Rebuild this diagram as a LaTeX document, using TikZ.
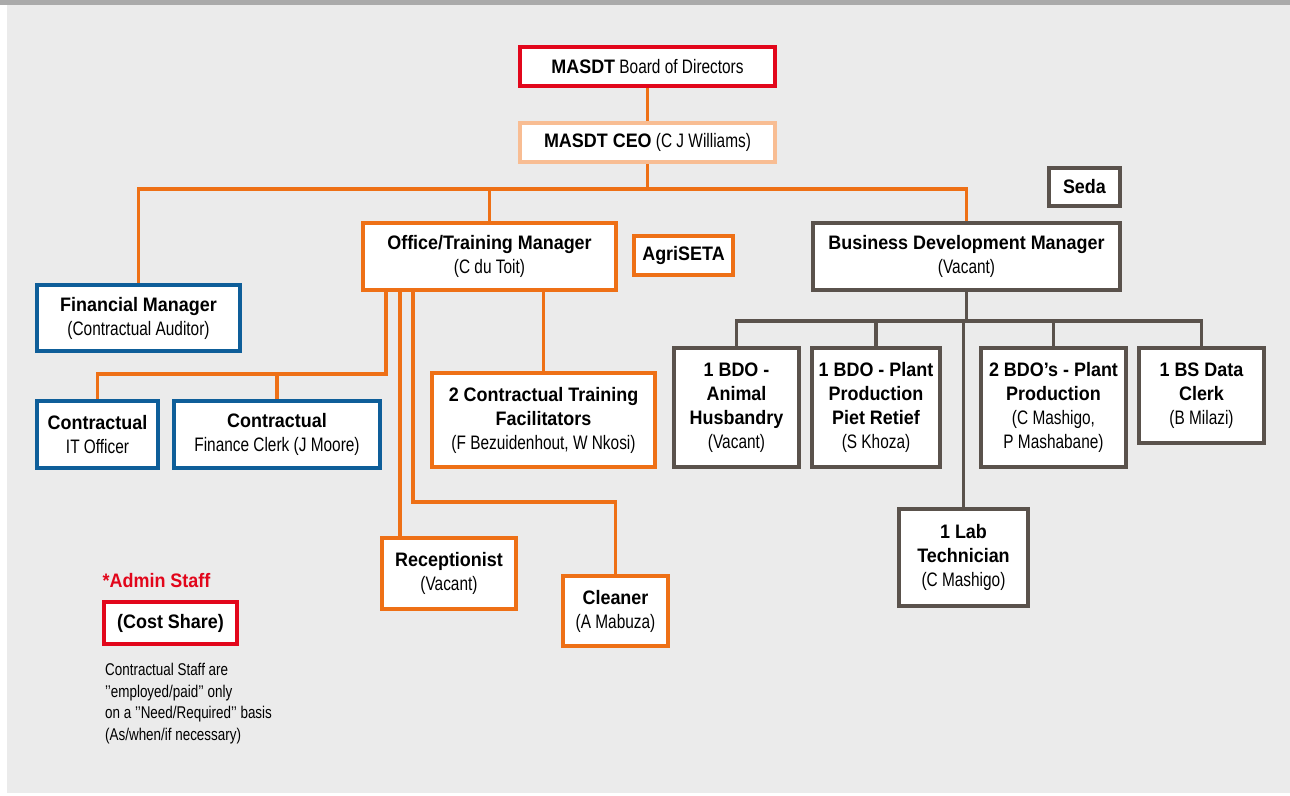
\documentclass[tikz,border=0pt]{standalone}
\usepackage{fontspec}
\setmainfont{Liberation Sans}[FakeStretch=0.79, BoldFeatures={FakeStretch=0.92}]
\definecolor{bgc}{HTML}{EBEBEB}
\definecolor{barc}{HTML}{AAAAAA}
\definecolor{orc}{HTML}{EE7016}
\definecolor{redc}{HTML}{E2061B}
\definecolor{peachc}{HTML}{F8BD93}
\definecolor{bluec}{HTML}{0E5E99}
\definecolor{greyc}{HTML}{5A524C}
\pgfdeclarelayer{bglayer}
\pgfdeclarelayer{linelayer}
\pgfsetlayers{bglayer,linelayer,main}
\tikzset{
  box/.style={draw, fill=white, line width=4bp, rectangle, inner sep=0pt, align=center,
    font=\fontsize{19.5bp}{24bp}\selectfont},
  obox/.style={box, draw=orc},
  bbox/.style={box, draw=bluec},
  gbox/.style={box, draw=greyc},
  rbox/.style={box, draw=redc},
  pbox/.style={box, draw=peachc},
  oline/.style={draw=orc, line width=3.5bp},
  gline/.style={draw=greyc, line width=3.5bp},
}
\begin{document}
\begin{tikzpicture}[x=1bp, y=-1bp]
\useasboundingbox (0,0) rectangle (1290,796);
\begin{pgfonlayer}{bglayer}
\fill[white] (0,0) rectangle (1290,796);
\fill[bgc] (7,5) rectangle (1290,793);
\fill[barc] (0,0) rectangle (1290,5);
\end{pgfonlayer}

\coordinate (ob) at (647.5,189);
\coordinate (ob1) at (386,290);
\coordinate (ob2) at (400,290);
\coordinate (ob3) at (413,290);
\coordinate (itb) at (97.5,374);
\coordinate (clb) at (615.5,502);
\coordinate (gb) at (966.5,321);

% top
\node[rbox, minimum width=255bp, minimum height=39bp] (board) at (647.5,66.5) {\textbf{MASDT} Board of Directors};
\node[pbox, minimum width=255bp, minimum height=39bp] (ceo) at (647.5,142.5) {\textbf{MASDT CEO} (C J Williams)};

% left branch
\node[obox, minimum width=253bp, minimum height=67bp] (office) at (489.5,256.5) {\textbf{Office/Training Manager}\\(C du Toit)};
\node[obox, minimum width=99bp, minimum height=39bp] (agri) at (683.5,255.5) {\textbf{AgriSETA}};
\node[bbox, minimum width=203bp, minimum height=66bp] (fin) at (138.5,318) {\textbf{Financial Manager}\\(Contractual Auditor)};
\node[bbox, minimum width=121bp, minimum height=67bp] (it) at (97.5,434.5) {\textbf{Contractual}\\IT Officer};
\node[bbox, minimum width=206bp, minimum height=67bp] (clerk) at (277,434.5) {\textbf{Contractual}\\Finance Clerk (J Moore)};
\node[obox, minimum width=223bp, minimum height=94bp] (facil) at (543.5,420) {\textbf{2 Contractual Training}\\\textbf{Facilitators}\\(F Bezuidenhout, W Nkosi)};
\node[obox, minimum width=134bp, minimum height=71bp] (recep) at (449,573.5) {\textbf{Receptionist}\\(Vacant)};
\node[obox, minimum width=105bp, minimum height=70bp] (cleaner) at (615.5,611) {\textbf{Cleaner}\\(A Mabuza)};

% right branch
\node[gbox, minimum width=71bp, minimum height=38bp] (seda) at (1084.5,187) {\textbf{Seda}};
\node[gbox, minimum width=307bp, minimum height=67bp] (bdm) at (966.5,256.5) {\textbf{Business Development Manager}\\(Vacant)};
\node[gbox, minimum width=125bp, minimum height=119bp] (bdo1) at (736.5,407.5) {\textbf{1 BDO -}\\\textbf{Animal}\\\textbf{Husbandry}\\(Vacant)};
\node[gbox, minimum width=128bp, minimum height=119bp] (bdo2) at (876,407.5) {\textbf{1 BDO - Plant}\\\textbf{Production}\\\textbf{Piet Retief}\\(S Khoza)};
\node[gbox, minimum width=145bp, minimum height=119bp] (bdo3) at (1053.5,407.5) {\textbf{2 BDO’s - Plant}\\\textbf{Production}\\(C Mashigo,\\P Mashabane)};
\node[gbox, minimum width=125bp, minimum height=95bp] (bsdc) at (1201.5,395.5) {\textbf{1 BS Data}\\\textbf{Clerk}\\(B Milazi)};
\node[gbox, minimum width=129bp, minimum height=97bp] (lab) at (963.5,557.5) {\textbf{1 Lab}\\\textbf{Technician}\\(C Mashigo)};

% legend
\node[text=redc, font=\fontsize{19.5bp}{24bp}\selectfont\bfseries] (admin) at (156.5,581) {*Admin Staff};
\node[rbox, minimum width=133bp, minimum height=42bp] (cost) at (170.5,623) {\textbf{(Cost Share)}};
\node[anchor=north west, align=left, inner sep=0pt, font=\fontsize{17bp}{21.7bp}\selectfont] (note) at (105,663) {Contractual Staff are\\’’employed/paid’’ only\\on a ’’Need/Required’’ basis\\(As/when/if necessary)};

\begin{pgfonlayer}{linelayer}
\draw[oline] (board) -- (ceo);
\draw[oline] (ceo) -- (ob);
\draw[oline] (fin.north) |- (ob) -| (bdm.north);
\draw[oline] (office.north) -- (office.north |- ob);
\draw[oline] (office.south -| ob1) |- (itb) -- (it.north);
\draw[oline] (clerk.north) -- (clerk.north |- itb);
\draw[oline] (office.south -| ob2) -- (ob2 |- recep.north);
\draw[oline] (office.south -| ob3) |- (clb) -- (cleaner.north);
\draw[oline] (facil.north |- office.south) -- (facil.north);
\draw[gline] (bdm.south) -- (gb);
\draw[gline] (bdo1.north) -- (bdo1.north |- gb) -- (bsdc.north |- gb) -- (bsdc.north);
\draw[gline] (bdo2.north) -- (bdo2.north |- gb);
\draw[gline] (bdo3.north) -- (bdo3.north |- gb);
\draw[gline] (lab.north) -- (lab.north |- gb);
\end{pgfonlayer}
\end{tikzpicture}
\end{document}
